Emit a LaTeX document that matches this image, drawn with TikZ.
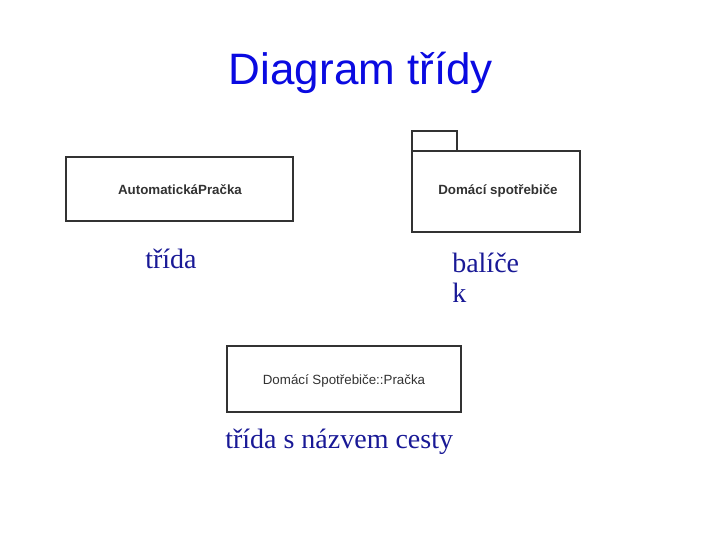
\documentclass[tikz,border=0pt]{standalone}
\usepackage{fontspec}
\setmainfont{Liberation Serif}
\setsansfont{Liberation Sans}
\definecolor{titleblue}{RGB}{10,10,225}
\definecolor{labelblue}{RGB}{25,25,150}
\definecolor{boxgrey}{RGB}{50,50,50}

\newcommand\MYline{1.9pt}

\tikzset{
  umlbox/.style={draw=boxgrey, line width=\MYline},
  umltext/.style={font=\sffamily\fontsize{10}{12}\selectfont, text=boxgrey},
  caption/.style={font=\fontsize{21}{25}\selectfont, text=labelblue, anchor=base west, inner sep=0pt}
}

\begin{document}
\begin{tikzpicture}[x=0.75pt, y=-0.75pt]

\useasboundingbox (0,0) rectangle (720,540);

% title
\node[font=\sffamily\fontsize{33}{40}\selectfont, text=titleblue, anchor=base, inner sep=0pt] (title) at (361,84) {Diagram třídy};

% class
\coordinate (ClassUL) at (66,157);
\coordinate (ClassLR) at (293,221);
\draw[umlbox] (ClassUL) rectangle (ClassLR);
\node[umltext, font=\sffamily\bfseries\fontsize{10}{12}\selectfont] (classname) at (180,190) {AutomatickáPračka};
\node[caption] (classlabel) at (145,268) {třída};

% package
\coordinate (TabUL) at (412,131);
\coordinate (TabLR) at (457,151);
\coordinate (PkgUL) at (412,151);
\coordinate (PkgLR) at (580,232);
\draw[umlbox] (TabUL) rectangle (TabLR);
\draw[umlbox] (PkgUL) rectangle (PkgLR);
\node[umltext, font=\sffamily\bfseries\fontsize{10}{12}\selectfont] (pkgname) at (498,191) {Domácí spotřebiče};
\node[caption] (pkglabel) at (452,272) {balíče};
\node[caption] (pkglabelk) at (452,302) {k};

% class with path name
\coordinate (PathUL) at (227,346);
\coordinate (PathLR) at (461,412);
\draw[umlbox] (PathUL) rectangle (PathLR);
\node[umltext] (pathname) at (344,381) {Domácí Spotřebiče::Pračka};
\node[caption] (pathlabel) at (225,448) {třída s názvem cesty};

\end{tikzpicture}
\end{document}
